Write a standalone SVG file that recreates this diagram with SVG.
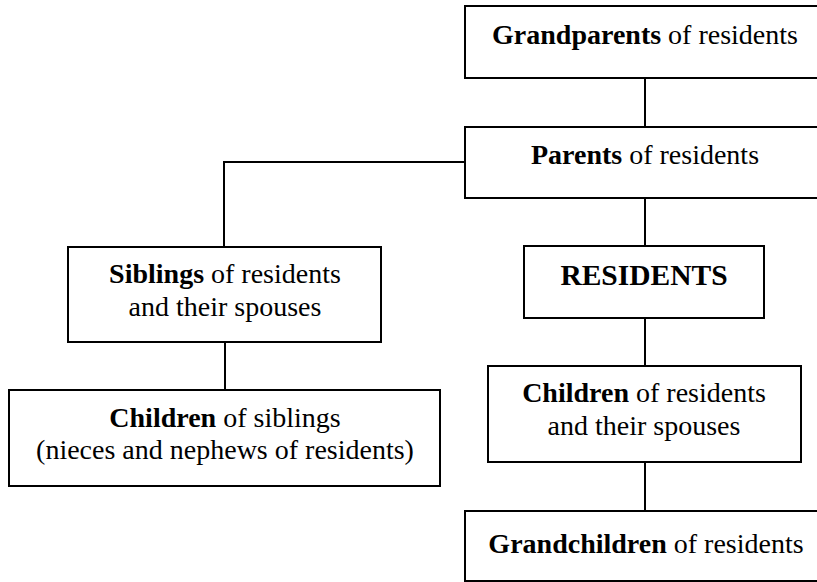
<svg xmlns="http://www.w3.org/2000/svg" width="817" height="582" viewBox="0 0 817 582">
<style>
.box{fill:#fff;stroke:#000;stroke-width:2}
.con{fill:none;stroke:#000;stroke-width:2}
text{font-family:"Liberation Serif","Times New Roman",serif;font-size:28px;fill:#000;text-anchor:middle}
.b{font-weight:bold}
</style>
<rect width="817" height="582" fill="#fff"/>
<g id="connectors">
<line class="con" x1="645" y1="78" x2="645" y2="127"/>
<line class="con" x1="645" y1="198" x2="645" y2="246"/>
<line class="con" x1="645" y1="318" x2="645" y2="366"/>
<line class="con" x1="645" y1="462" x2="645" y2="511"/>
<polyline class="con" points="465,162 224,162 224,247"/>
<line class="con" x1="225" y1="342" x2="225" y2="390"/>
</g>
<g id="grandparents">
<rect class="box" x="465" y="6" width="380" height="72"/>
<text x="645" y="44"><tspan class="b">Grandparents</tspan> of residents</text>
</g>
<g id="parents">
<rect class="box" x="465" y="127" width="380" height="71"/>
<text x="645" y="164"><tspan class="b">Parents</tspan> of residents</text>
</g>
<g id="siblings">
<rect class="box" x="68" y="247" width="313" height="95"/>
<text x="225" y="283"><tspan class="b">Siblings</tspan> of residents</text>
<text x="225" y="316">and their spouses</text>
</g>
<g id="children-of-siblings">
<rect class="box" x="9" y="390" width="431" height="96"/>
<text x="225" y="427"><tspan class="b">Children</tspan> of siblings</text>
<text x="225" y="459">(nieces and nephews of residents)</text>
</g>
<g id="residents">
<rect class="box" x="524" y="246" width="240" height="72"/>
<text x="644" y="285" class="b" style="font-size:29.5px">RESIDENTS</text>
</g>
<g id="children-of-residents">
<rect class="box" x="488" y="366" width="313" height="96"/>
<text x="644" y="402"><tspan class="b">Children</tspan> of residents</text>
<text x="644" y="435">and their spouses</text>
</g>
<g id="grandchildren">
<rect class="box" x="465" y="511" width="380" height="70"/>
<text x="646" y="553"><tspan class="b">Grandchildren</tspan> of residents</text>
</g>
</svg>
